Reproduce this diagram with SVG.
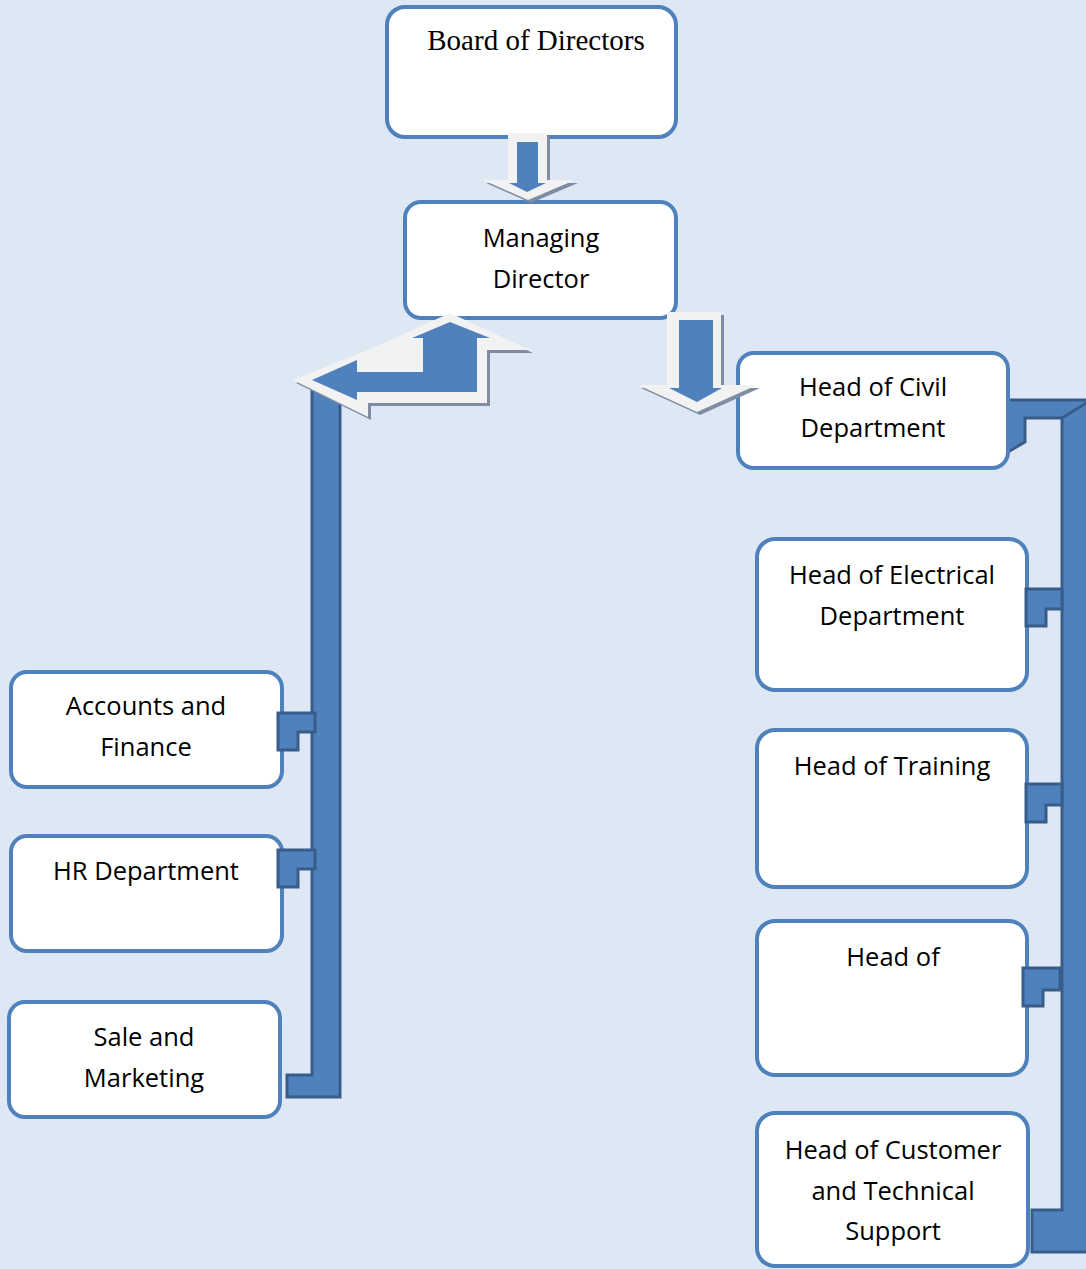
<svg xmlns="http://www.w3.org/2000/svg" width="1086" height="1269" viewBox="0 0 1086 1269">
<style>
.box{fill:#ffffff;stroke:#4F81BD;stroke-width:4}
.t{font-family:"Open Sans","Liberation Sans",sans-serif;font-size:25.5px;fill:#000;text-anchor:middle}
.ts{font-family:"Liberation Serif","Times New Roman",serif;font-size:29px;fill:#000;text-anchor:middle}
.bar{fill:#4F81BD;stroke:#385D8A;stroke-width:3;stroke-linejoin:miter}
.arLight{fill:#F2F2F2}
.arBlue{fill:#4F81BD}
.arShadow{fill:#7F8DA4}
</style>
<rect x="0" y="0" width="1086" height="1269" fill="#DEE8F4"/>

<g id="connectors">
  <!-- left bracket -->
  <polygon class="bar" points="312,390 340,390 340,1097 287,1097 287,1075 312,1075"/>
  <!-- right bracket -->
  <polygon class="bar" points="1008,400 1092,400 1092,1252 1032,1252 1032,1210 1062,1210 1062,418 1025,418 1025,442 1008,452"/>
  <line x1="1062" y1="418" x2="1088" y2="402" stroke="#385D8A" stroke-width="3"/>
</g>

<g id="node-board">
  <rect class="box" x="387" y="7" width="289" height="130" rx="18"/>
  <text class="ts" x="536" y="50">Board of Directors</text>
</g>
<g id="node-md">
  <rect class="box" x="405" y="202" width="271" height="116" rx="16"/>
  <text class="t" x="541" y="247">Managing</text>
  <text class="t" x="541" y="288">Director</text>
</g>
<g id="node-civil">
  <rect class="box" x="738" y="353" width="270" height="115" rx="16"/>
  <text class="t" x="873" y="396">Head of Civil</text>
  <text class="t" x="873" y="437">Department</text>
</g>
<g id="node-electrical">
  <rect class="box" x="757" y="539" width="270" height="151" rx="18"/>
  <text class="t" x="892" y="584">Head of Electrical</text>
  <text class="t" x="892" y="625">Department</text>
</g>
<g id="node-training">
  <rect class="box" x="757" y="730" width="270" height="157" rx="18"/>
  <text class="t" x="892" y="775">Head of Training</text>
</g>
<g id="node-headof">
  <rect class="box" x="757" y="921" width="270" height="154" rx="18"/>
  <text class="t" x="893" y="966">Head of</text>
</g>
<g id="node-customer">
  <rect class="box" x="757" y="1113" width="271" height="153" rx="18"/>
  <text class="t" x="893" y="1159">Head of Customer</text>
  <text class="t" x="893" y="1200">and Technical</text>
  <text class="t" x="893" y="1240">Support</text>
</g>
<g id="node-accounts">
  <rect class="box" x="11" y="672" width="271" height="115" rx="16"/>
  <text class="t" x="146" y="715">Accounts and</text>
  <text class="t" x="146" y="756">Finance</text>
</g>
<g id="node-hr">
  <rect class="box" x="11" y="836" width="271" height="115" rx="16"/>
  <text class="t" x="146" y="880">HR Department</text>
</g>
<g id="node-sales">
  <rect class="box" x="9" y="1002" width="271" height="115" rx="16"/>
  <text class="t" x="144" y="1046">Sale and</text>
  <text class="t" x="144" y="1087">Marketing</text>
</g>

<g id="connectors-top">
  <!-- small L joints left -->
  <polygon class="bar" points="278,713 315,713 315,732 298,732 298,750 278,750"/>
  <polygon class="bar" points="278,850 315,850 315,869 298,869 298,887 278,887"/>
  <!-- small L joints right -->
  <polygon class="bar" points="1026,589 1062,589 1062,609 1046,609 1046,626 1026,626"/>
  <polygon class="bar" points="1026,784 1062,784 1062,805 1046,805 1046,822 1026,822"/>
  <polygon class="bar" points="1023,968 1060,968 1060,990 1043,990 1043,1006 1023,1006"/>

  <!-- Board -> MD arrow -->
  <polygon class="arShadow" points="511,136 550,136 550,183 578,183 531,203 486,183 511,183"/>
  <polygon class="arLight" points="508,133 547,133 547,180 575,180 528,200 483,180 508,180"/>
  <polygon class="arBlue" points="517,142 538,142 538,183 546,183 527,192 509,183 517,183"/>

  <!-- MD -> Civil arrow -->
  <polygon class="arShadow" points="670,315 724,315 724,388 760,388 700,415 641,388 670,388"/>
  <polygon class="arLight" points="667,312 721,312 721,385 757,385 697,412 638,385 667,385"/>
  <polygon class="arBlue" points="679,320 713,320 713,388 722,388 697,402 669,388 679,388"/>

  <!-- MD -> left bent arrow -->
  <polygon class="arShadow" points="296,383 376,351 453,316 533,353 490,353 490,406 371,406 371,420"/>
  <polygon class="arLight" points="293,380 373,348 450,313 530,350 487,350 487,403 368,403 368,417"/>
  <polygon class="arBlue" points="450,322 490,338 477,338 477,392 357,392 357,400 312,380 357,360 357,372 423,372 423,338 412,338"/>
</g>
</svg>
